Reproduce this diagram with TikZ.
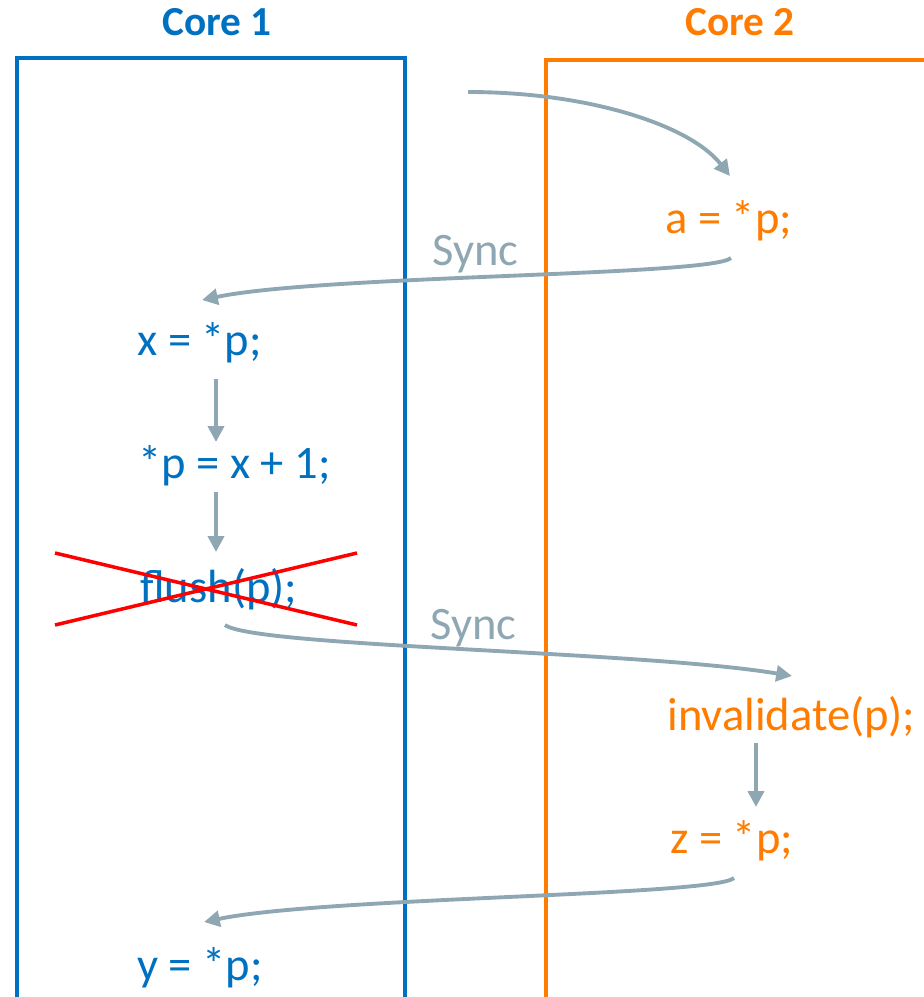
\documentclass[tikz,border=0pt]{standalone}
\usepackage{fontspec}
\setmainfont{Carlito}
\usepackage{tikz}
\usetikzlibrary{arrows.meta}
\usepackage{xcolor}
\definecolor{coreblue}{HTML}{0070C0}
\definecolor{coreorange}{HTML}{FF7C00}
\definecolor{syncgray}{HTML}{8FA7B3}

\begin{document}
\begin{tikzpicture}[x=0.02cm,y=-0.02cm,>={Triangle[length=9pt,width=9pt]},
  code/.style={anchor=base west,inner sep=0pt,font=\fontsize{26.5}{30}\selectfont},
  corelbl/.style={anchor=base,inner sep=0pt,font=\fontsize{23.5}{28}\selectfont\bfseries},
  flow/.style={->,draw=syncgray,line width=2.2pt}]
\useasboundingbox (0,0) rectangle (923,997);
% the two cores
\draw[coreblue,line width=2pt] (17,1010) -- (17,58) -- (405,58) -- (405,1010);
\draw[coreorange,line width=2pt] (546,1010) -- (546,60) -- (930,60);
\node[corelbl,text=coreblue] (core1) at (217,36) {Core 1};
\node[corelbl,text=coreorange] (core2) at (740,36) {Core 2};
% statements
\node[code,text=coreorange] (aload) at (665,233) {a = *p;};
\node[code,text=coreblue] (xload) at (137,355) {x = *p;};
\node[code,text=coreblue] (pstore) at (138,478) {*p = x + 1;};
\node[code,text=coreblue] (flush) at (140,602) {flush(p);};
\node[code,text=coreorange] (inval) at (667,730) {invalidate(p);};
\node[code,text=coreorange] (zload) at (670,853) {z = *p;};
\node[code,text=coreblue] (yload) at (137,980) {y = *p;};
\node[code,text=syncgray] (sync1) at (432,265) {Sync};
\node[code,text=syncgray] (sync2) at (430,639) {Sync};
\coordinate (start) at (468,92);
% flow between the cores
\draw[flow] (start) .. controls +(120,0) and +(-40,-51) .. ([shift={(65,-57)}]aload.base west);
\draw[flow] ([shift={(66,25)}]aload.base west) .. controls +(-20,18) and +(120,-25) .. ([shift={(65,-55)}]xload.base west);
\draw[flow] ([shift={(79,24)}]xload.base west) -- ([shift={(78,-36)}]pstore.base west);
\draw[flow] ([shift={(78,14)}]pstore.base west) -- ([shift={(76,-50)}]flush.base west);
\draw[flow] ([shift={(85,23)}]flush.base west) .. controls +(30,22) and +(-150,-25) .. ([shift={(125,-54)}]inval.base west);
\draw[flow] ([shift={(89,13)}]inval.base west) -- ([shift={(86,-46)}]zload.base west);
\draw[flow] ([shift={(64,25)}]zload.base west) .. controls +(-20,18) and +(120,-25) .. ([shift={(67,-58)}]yload.base west);
% flush is crossed out
\draw[red,line width=2pt] ([shift={(-85,-49)}]flush.base west) -- ([shift={(217,23)}]flush.base west);
\draw[red,line width=2pt] ([shift={(-85,23)}]flush.base west) -- ([shift={(217,-49)}]flush.base west);
\end{tikzpicture}
\end{document}
